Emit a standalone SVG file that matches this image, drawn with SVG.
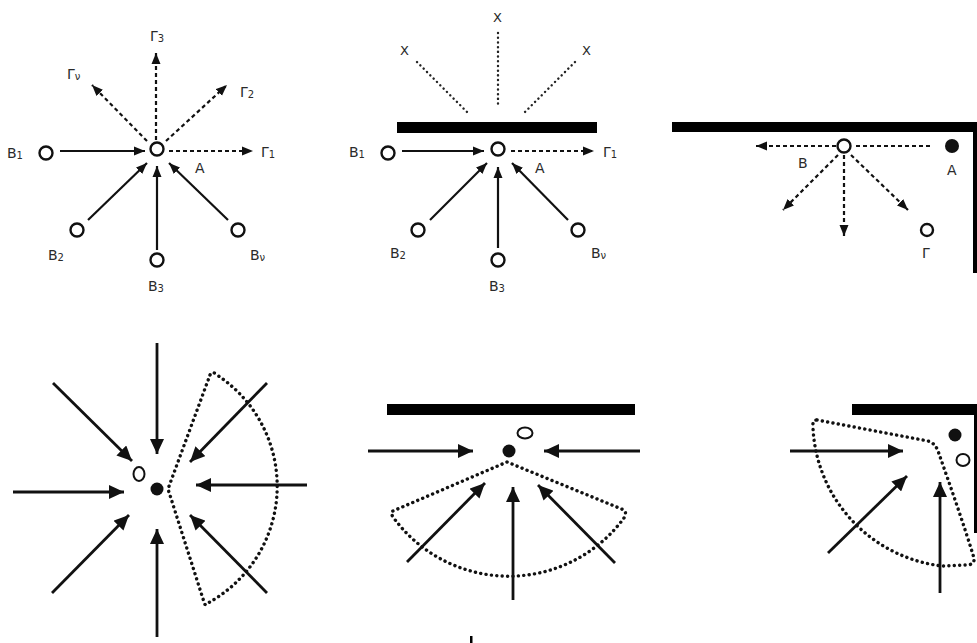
<svg xmlns="http://www.w3.org/2000/svg" width="977" height="643" viewBox="0 0 977 643">
<defs>
<marker id="ah" markerUnits="userSpaceOnUse" markerWidth="11" markerHeight="10" refX="11" refY="5" orient="auto"><path d="M0,0.5 L11,5 L0,9.5 z" fill="#111"/></marker>
<marker id="ahb" markerUnits="userSpaceOnUse" markerWidth="15" markerHeight="14" refX="15" refY="7" orient="auto"><path d="M0,0 L15,7 L0,14 z" fill="#111"/></marker>
<style>
.t{font-family:"DejaVu Sans","Liberation Sans",sans-serif;font-size:14px;fill:#2a2a2a}
.s{font-size:10px}
.node{fill:#fff;stroke:#111;stroke-width:2.4}
.dot{fill:#111}
.ring{fill:#fff;stroke:#111;stroke-width:2}
.sol{stroke:#111;stroke-width:2.2;fill:none;marker-end:url(#ah)}
.dash{stroke:#111;stroke-width:2.2;fill:none;stroke-dasharray:4 3;marker-end:url(#ah)}
.dashn{stroke:#111;stroke-width:2.2;fill:none;stroke-dasharray:4 3}
.big{stroke:#111;stroke-width:2.8;fill:none;marker-end:url(#ahb)}
.dots{stroke:#111;stroke-width:3.4;fill:none;stroke-dasharray:0.1 5.3;stroke-linecap:round;stroke-linejoin:round}
.dotl{stroke:#222;stroke-width:2.4;fill:none;stroke-dasharray:0.1 4.6;stroke-linecap:round}
.wall{fill:#000}
</style>
</defs>
<rect width="977" height="643" fill="#fff"/>

<!-- walls -->
<g id="walls">
<rect class="wall" x="397" y="122" width="200" height="11"/>
<rect class="wall" x="672" y="122" width="305" height="10"/>
<rect class="wall" x="973" y="122" width="4" height="151"/>
<rect class="wall" x="387" y="404" width="248" height="11"/>
<rect class="wall" x="852" y="404" width="125" height="11"/>
<rect class="wall" x="974" y="404" width="3" height="129"/>
<rect class="wall" x="470" y="636" width="2.5" height="7"/>
</g>

<!-- connectors -->
<g id="connectors">
<!-- panel 1 -->
<line class="sol" x1="60" y1="151" x2="145" y2="151"/>
<line class="sol" x1="88" y1="220" x2="147" y2="163"/>
<line class="sol" x1="157" y1="250" x2="157" y2="166"/>
<line class="sol" x1="228" y1="220" x2="169" y2="163"/>
<line class="dash" x1="169" y1="151" x2="253" y2="151"/>
<line class="dash" x1="166" y1="141" x2="227" y2="85"/>
<line class="dash" x1="156" y1="140" x2="156" y2="53"/>
<line class="dash" x1="147" y1="141" x2="92" y2="85"/>
<!-- panel 2 -->
<line class="sol" x1="402" y1="151" x2="484" y2="151"/>
<line class="sol" x1="430" y1="220" x2="487" y2="163"/>
<line class="sol" x1="498" y1="248" x2="498" y2="167"/>
<line class="sol" x1="568" y1="220" x2="512" y2="163"/>
<line class="dash" x1="511" y1="151" x2="594" y2="151"/>
<line class="dotl" x1="498" y1="33" x2="498" y2="106"/>
<line class="dotl" x1="417" y1="62" x2="467" y2="112"/>
<line class="dotl" x1="575" y1="62" x2="525" y2="112"/>
<!-- panel 3 -->
<line class="dashn" x1="930" y1="146" x2="853" y2="146"/>
<line class="dash" x1="836" y1="146" x2="756" y2="146"/>
<line class="dash" x1="838" y1="155" x2="783" y2="210"/>
<line class="dash" x1="844" y1="155" x2="844" y2="236"/>
<line class="dash" x1="851" y1="155" x2="908" y2="210"/>
<!-- panel 4 -->
<line class="big" x1="157" y1="343" x2="157" y2="454"/>
<line class="big" x1="157" y1="637" x2="157" y2="529"/>
<line class="big" x1="13" y1="492" x2="124" y2="492"/>
<line class="big" x1="307" y1="485" x2="196" y2="485"/>
<line class="big" x1="53" y1="383" x2="132" y2="461"/>
<line class="big" x1="52" y1="593" x2="129" y2="515"/>
<line class="big" x1="267" y1="383" x2="190" y2="462"/>
<line class="big" x1="267" y1="593" x2="190" y2="515"/>
<path class="dots" d="M210,375 Q212,371 216,374 L217,375 A133 133 0 0 1 208,603 Q205,607 204,602 L168,489 Z"/>
<!-- panel 5 -->
<line class="big" x1="368" y1="451" x2="473" y2="451"/>
<line class="big" x1="640" y1="451" x2="544" y2="451"/>
<line class="big" x1="407" y1="562" x2="485" y2="483"/>
<line class="big" x1="513" y1="600" x2="513" y2="487"/>
<line class="big" x1="615" y1="563" x2="538" y2="485"/>
<path class="dots" d="M507,462 L624,510 Q627,513 624,518 A143 143 0 0 1 393,517 Q390,512 393,511 Z"/>
<!-- panel 6 -->
<line class="big" x1="790" y1="451" x2="903" y2="451"/>
<line class="big" x1="828" y1="553" x2="907" y2="476"/>
<line class="big" x1="940" y1="593" x2="940" y2="482"/>
<path class="dots" d="M817,420 L928,441 Q935,443 938,451 C950,485 964,525 974,558 Q975,565 966,565 L942,566 A146 146 0 0 1 813,428 Q812,420 817,420 Z"/>
</g>

<!-- panel 1 nodes -->
<g id="p1-A"><circle class="node" cx="157" cy="149" r="6.5"/><text class="t" x="195" y="173">A</text></g>
<g id="p1-B1"><circle class="node" cx="46" cy="153" r="6.5"/><text class="t" x="7" y="158">B<tspan class="s" dy="1">1</tspan></text></g>
<g id="p1-B2"><circle class="node" cx="77" cy="230" r="6.5"/><text class="t" x="48" y="260">B<tspan class="s" dy="1">2</tspan></text></g>
<g id="p1-B3"><circle class="node" cx="157" cy="260" r="6.5"/><text class="t" x="148" y="291">B<tspan class="s" dy="1">3</tspan></text></g>
<g id="p1-Bv"><circle class="node" cx="238" cy="230" r="6.5"/><text class="t" x="250" y="260">B<tspan class="s" dy="1">ν</tspan></text></g>
<g id="p1-G1"><text class="t" x="261" y="157">Γ<tspan class="s" dy="1">1</tspan></text></g>
<g id="p1-G2"><text class="t" x="240" y="97">Γ<tspan class="s" dy="1">2</tspan></text></g>
<g id="p1-G3"><text class="t" x="150" y="41">Γ<tspan class="s" dy="1">3</tspan></text></g>
<g id="p1-Gv"><text class="t" x="67" y="79">Γ<tspan class="s" dy="1">ν</tspan></text></g>

<!-- panel 2 nodes -->
<g id="p2-A"><circle class="node" cx="498" cy="149" r="6.5"/><text class="t" x="535" y="173">A</text></g>
<g id="p2-B1"><circle class="node" cx="388" cy="153" r="6.5"/><text class="t" x="349" y="157">B<tspan class="s" dy="1">1</tspan></text></g>
<g id="p2-B2"><circle class="node" cx="418" cy="230" r="6.5"/><text class="t" x="390" y="258">B<tspan class="s" dy="1">2</tspan></text></g>
<g id="p2-B3"><circle class="node" cx="498" cy="260" r="6.5"/><text class="t" x="489" y="291">B<tspan class="s" dy="1">3</tspan></text></g>
<g id="p2-Bv"><circle class="node" cx="578" cy="230" r="6.5"/><text class="t" x="591" y="258">B<tspan class="s" dy="1">ν</tspan></text></g>
<g id="p2-G1"><text class="t" x="603" y="157">Γ<tspan class="s" dy="1">1</tspan></text></g>
<g id="p2-X1"><text class="t" x="400" y="55" style="font-size:13px">X</text></g>
<g id="p2-X2"><text class="t" x="493" y="22" style="font-size:13px">X</text></g>
<g id="p2-X3"><text class="t" x="582" y="55" style="font-size:13px">X</text></g>

<!-- panel 3 nodes -->
<g id="p3-center"><circle class="node" cx="844" cy="146" r="6.5"/></g>
<g id="p3-A"><circle class="dot" cx="952" cy="146" r="7"/><text class="t" x="947" y="175">A</text></g>
<g id="p3-B"><text class="t" x="798" y="168">B</text></g>
<g id="p3-G"><circle class="node" cx="927" cy="230" r="6"/><text class="t" x="922" y="258">Γ</text></g>

<!-- panel 4 nodes -->
<g id="p4-ring"><ellipse class="ring" cx="139" cy="474" rx="5.5" ry="7"/></g>
<g id="p4-dot"><circle class="dot" cx="157" cy="489" r="6.5"/></g>

<!-- panel 5 nodes -->
<g id="p5-ring"><ellipse class="ring" cx="525" cy="433" rx="7.5" ry="5.5"/></g>
<g id="p5-dot"><circle class="dot" cx="509" cy="451" r="6.5"/></g>

<!-- panel 6 nodes -->
<g id="p6-dot"><circle class="dot" cx="955" cy="435" r="6.5"/></g>
<g id="p6-ring"><ellipse class="ring" cx="963" cy="460" rx="6.5" ry="6"/></g>
</svg>
